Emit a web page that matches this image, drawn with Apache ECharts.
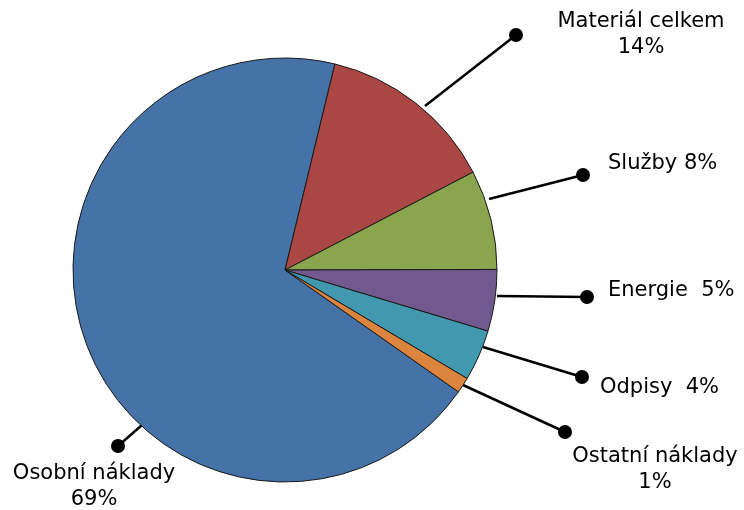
<!DOCTYPE html>
<html><head><meta charset="utf-8">
<script src="https://cdn.jsdelivr.net/npm/echarts@6/dist/echarts.min.js"></script>
<style>html,body{margin:0;padding:0;background:#fff}#c{width:744px;height:510px}</style>
</head><body><div id="c"></div><script>
// ---- data ----
const categories = ['Osobní náklady', 'Materiál celkem', 'Služby', 'Energie', 'Odpisy', 'Ostatní náklady'];
const values = [69.1, 13.6, 7.6, 4.7, 3.9, 1.2];
const labelSeparators = ['\n', '\n', ' ', '  ', '  ', '\n'];

// ---- styles / layout ----
const colors = ['#4572A7', '#AA4643', '#89A54E', '#71588F', '#4198AF', '#DB843D'];
const labelLayoutCfg = [
  {x: 94,  y: 487, align: 'center', start: [142, 425], dot: [118, 446]},
  {x: 641, y: 35,  align: 'center', start: [425, 106], dot: [516, 35]},
  {x: 608, y: 164, align: 'left',   start: [489, 199], dot: [583, 175]},
  {x: 608, y: 291, align: 'left',   start: [497, 296], dot: [587, 297]},
  {x: 600, y: 388, align: 'left',   start: [483, 347], dot: [582, 377]},
  {x: 655, y: 470, align: 'center', start: [463, 385], dot: [565, 432]}
];

const total = values.reduce((a, b) => a + b, 0);
const chart = echarts.init(document.getElementById('c'), null, {renderer: 'canvas'});
chart.setOption({
  animation: false,
  backgroundColor: '#fff',
  series: [{
    type: 'pie',
    center: [285, 270],
    radius: 212,
    startAngle: 90 - 125.1,
    clockwise: true,
    avoidLabelOverlap: false,
    emphasis: {disabled: true},
    data: categories.map((n, i) => ({name: n, value: values[i], itemStyle: {color: colors[i]}})),
    itemStyle: {borderColor: '#1a1a1a', borderWidth: 1},
    label: {
      show: true,
      position: 'outside',
      color: '#000',
      fontFamily: 'DejaVu Sans, sans-serif',
      fontSize: 21,
      lineHeight: 26,
      formatter: p => p.name + labelSeparators[p.dataIndex] + Math.round(p.value / total * 100) + '%'
    },
    labelLine: {show: true, lineStyle: {color: '#000', width: 2.5}},
    labelLayout: function (params) {
      const c = labelLayoutCfg[params.dataIndex];
      return {x: c.x, y: c.y, align: c.align, verticalAlign: 'middle',
              labelLinePoints: [c.start, c.dot, c.dot]};
    }
  }],
  graphic: labelLayoutCfg.map(c => ({
    type: 'circle', shape: {cx: c.dot[0], cy: c.dot[1], r: 7}, style: {fill: '#000'}, z: 100
  }))
});
</script></body></html>
